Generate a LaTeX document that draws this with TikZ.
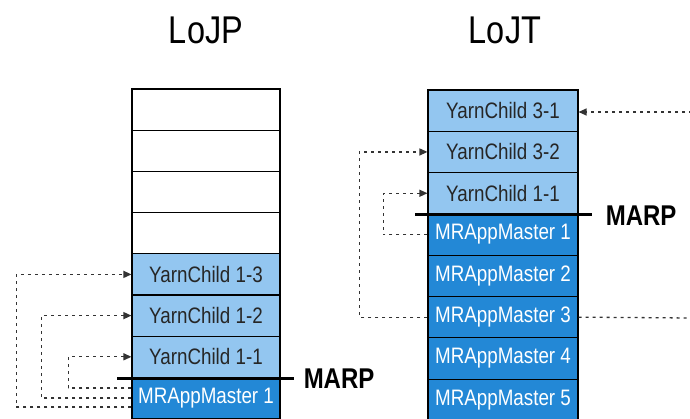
\documentclass[tikz,border=0pt]{standalone}
\usepackage{fontspec}
\setmainfont{Liberation Sans}
\usepackage{graphicx}
\usetikzlibrary{arrows.meta,calc}
\newcommand\vs[1]{\scalebox{1}[1.19]{#1}}
\definecolor{lightb}{RGB}{147,198,240}
\definecolor{darkb}{RGB}{35,136,214}
\begin{document}
\begin{tikzpicture}[x=1pt,y=-1pt,
  cell/.style={draw=black,line width=1.1pt,minimum height=41.3pt,inner sep=0pt,font=\fontsize{18.8}{20}\selectfont},
  lcell/.style={cell,minimum width=148pt},
  rcell/.style={cell,minimum width=150pt},
  emptyc/.style={fill=white},
  yc/.style={fill=lightb,text=black!85},
  mr/.style={fill=darkb,text=white},
  title/.style={font=\fontsize{32.5}{34}\selectfont},
  marpline/.style={line width=3pt,black},
  marp/.style={font=\fontsize{24}{26}\bfseries\selectfont,anchor=west,inner sep=0pt},
  conn/.style={line width=1.3pt,black!80,dash pattern=on 3pt off 4pt},
  arr/.style={conn,-{Triangle[length=8pt,width=7pt]}}]
\useasboundingbox (0,0) rectangle (690,418);
\clip (0,0) rectangle (690,418);
% titles
\node[title] (tP) at (206,30) {\vs{LoJP}};
\node[title] (tT) at (505,30) {\vs{LoJT}};
% left stack
\foreach \i/\t/\s in {1//emptyc,2//emptyc,3//emptyc,4//emptyc,5/YarnChild 1-3/yc,6/YarnChild 1-2/yc,7/YarnChild 1-1/yc,8/MRAppMaster 1/mr}{
  \node[lcell,\s] (l\i) at (206,{89+41.2*(\i-0.5)}) {\vs{\t}};
}
% right stack
\foreach \i/\t/\s in {1/YarnChild 3-1/yc,2/YarnChild 3-2/yc,3/YarnChild 1-1/yc,4/MRAppMaster 1/mr,5/MRAppMaster 2/mr,6/MRAppMaster 3/mr,7/MRAppMaster 4/mr,8/MRAppMaster 5/mr}{
  \node[rcell,\s] (r\i) at (503,{90+41.3*(\i-0.5)}) {\vs{\t}};
}
% MARP lines
\coordinate (lm1) at ($(l7.south west)+(-14,0)$);
\coordinate (lm2) at ($(l7.south east)+(13,0)$);
\draw[marpline] (lm1) -- (lm2);
\node[marp] (lmarp) at ($(lm2)+(10,1)$) {\vs{MARP}};
\coordinate (rm1) at ($(r3.south west)+(-12,0)$);
\coordinate (rm2) at ($(r3.south east)+(13,0)$);
\draw[marpline] (rm1) -- (rm2);
\node[marp] (rmarp) at ($(rm2)+(14,1)$) {\vs{MARP}};
% left connectors
\draw[arr] ([yshift=-9pt]l8.west) -| ([xshift=-115pt]l5.west) -- (l5.west);
\draw[arr] (l8.west) -| ([xshift=-90pt]l6.west) -- (l6.west);
\draw[arr] ([yshift=10pt]l8.west) -| ([xshift=-63pt]l7.west) -- (l7.west);
% right connectors
\coordinate (e1) at (692,112);
\coordinate (e2) at (692,318);
\draw[arr] (e1) -- (e1 -| r1.east);
\draw[arr] (r6.west) -| ([xshift=-68pt]r2.west) -- (r2.west);
\draw[arr] (r4.west) -| ([xshift=-44pt]r3.west) -- (r3.west);
\draw[conn] (r6.east) -- (e2);
\end{tikzpicture}
\end{document}
